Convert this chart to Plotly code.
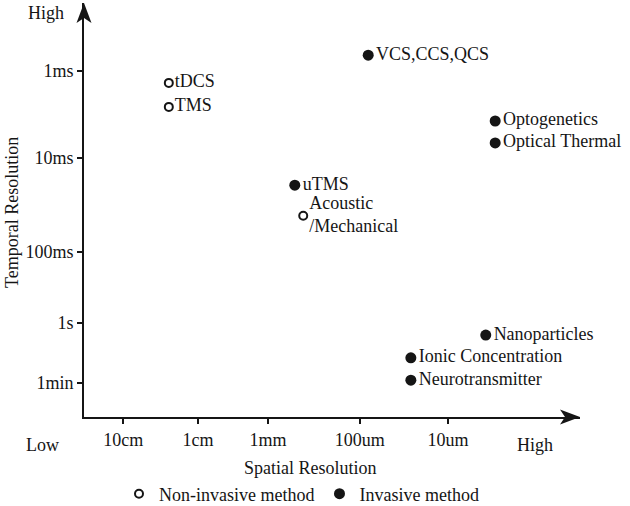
import plotly.graph_objects as go

# ---- data (schematic scores, 0-10 on each axis) ----
x_tick_vals = [0.79, 2.30, 3.71, 5.56, 7.34]
x_tick_text = ["10cm", "1cm", "1mm", "100um", "10um"]
y_tick_vals = [8.36, 6.26, 3.99, 2.27, 0.82]
y_tick_text = ["1ms", "10ms", "100ms", "1s", "1min"]

noninv_names = ["tDCS", "TMS", "Acoustic<br>/Mechanical"]
noninv_x = [1.71, 1.71, 4.42]
noninv_y = [8.07, 7.49, 4.86]

inv_names = ["VCS,CCS,QCS", "Optogenetics", "Optical Thermal", "uTMS",
             "Nanoparticles", "Ionic Concentration", "Neurotransmitter"]
inv_x = [5.73, 8.29, 8.29, 4.25, 8.10, 6.59, 6.59]
inv_y = [8.74, 7.15, 6.62, 5.60, 1.98, 1.43, 0.89]

FONT = "Liberation Serif"
INK = "#151515"
L, R, T, B = 84, 50, 3, 89
W, H = 630, 506
PW, PH = W - L - R, H - T - B


def px(x):
    return (x - L) / PW


def py(y):
    return (H - B - y) / PH


fig = go.Figure()

fig.add_trace(go.Scatter(
    x=noninv_x, y=noninv_y, mode="markers+text", text=noninv_names,
    textposition="middle right", cliponaxis=False, showlegend=False,
    marker=dict(symbol="circle-open", size=8, color=INK, line=dict(width=2, color=INK)),
    textfont=dict(family=FONT, size=18, color=INK),
))
fig.add_trace(go.Scatter(
    x=inv_x, y=inv_y, mode="markers+text", text=inv_names,
    textposition="middle right", cliponaxis=False, showlegend=False,
    marker=dict(symbol="circle", size=11, color=INK),
    textfont=dict(family=FONT, size=18, color=INK),
))
# legend entries
fig.add_trace(go.Scatter(
    x=[None], y=[None], mode="markers", name="Non-invasive method",
    marker=dict(symbol="circle-open", size=8, color=INK, line=dict(width=2, color=INK)),
))
fig.add_trace(go.Scatter(
    x=[None], y=[None], mode="markers", name="Invasive method",
    marker=dict(symbol="circle", size=11, color=INK),
))

axis_common = dict(
    range=[0, 10], showline=True, linewidth=2, linecolor=INK,
    ticks="outside", ticklen=5, tickwidth=2, tickcolor=INK,
    showgrid=False, zeroline=False, fixedrange=True, automargin=False,
    tickfont=dict(family=FONT, size=18, color=INK),
)

fig.update_layout(
    width=W, height=H,
    margin=dict(l=L, r=R, t=T, b=B, autoexpand=False),
    paper_bgcolor="white", plot_bgcolor="white",
    xaxis=dict(tickvals=x_tick_vals, ticktext=x_tick_text, **axis_common),
    yaxis=dict(tickvals=y_tick_vals, ticktext=y_tick_text, **axis_common),
    font=dict(family=FONT, size=18, color=INK),
    legend=dict(orientation="h", x=px(119), xanchor="left", y=py(494), yanchor="middle",
                font=dict(family=FONT, size=18, color=INK), bgcolor="rgba(0,0,0,0)",
                itemwidth=30),
    showlegend=True,
)

# arrowheads on axis ends
ax_len, ax_half, ax_notch = 20, 7.5, 15
x_path = (f"M 1 0 L {1 - ax_len / PW} {ax_half / PH} L {1 - ax_notch / PW} 0 "
          f"L {1 - ax_len / PW} {-ax_half / PH} Z")
y_path = (f"M 0 1 L {ax_half / PW} {1 - ax_len / PH} L 0 {1 - ax_notch / PH} "
          f"L {-ax_half / PW} {1 - ax_len / PH} Z")
for p in (x_path, y_path):
    fig.add_shape(type="path", path=p, xref="paper", yref="paper",
                  fillcolor=INK, line=dict(width=0), layer="above")

annots = [
    dict(text="High", x=px(46), y=py(13)),
    dict(text="Low", x=px(42), y=py(445)),
    dict(text="High", x=px(535), y=py(445)),
    dict(text="Spatial Resolution", x=px(310), y=py(468)),
    dict(text="Temporal Resolution", x=px(12), y=py(213), textangle=-90),
]
for a in annots:
    fig.add_annotation(xref="paper", yref="paper", showarrow=False,
                       xanchor="center", yanchor="middle",
                       font=dict(family=FONT, size=18, color=INK), **a)

fig.write_html("out.html", config={"displayModeBar": False},
               post_script="document.body.style.margin='0px';")
